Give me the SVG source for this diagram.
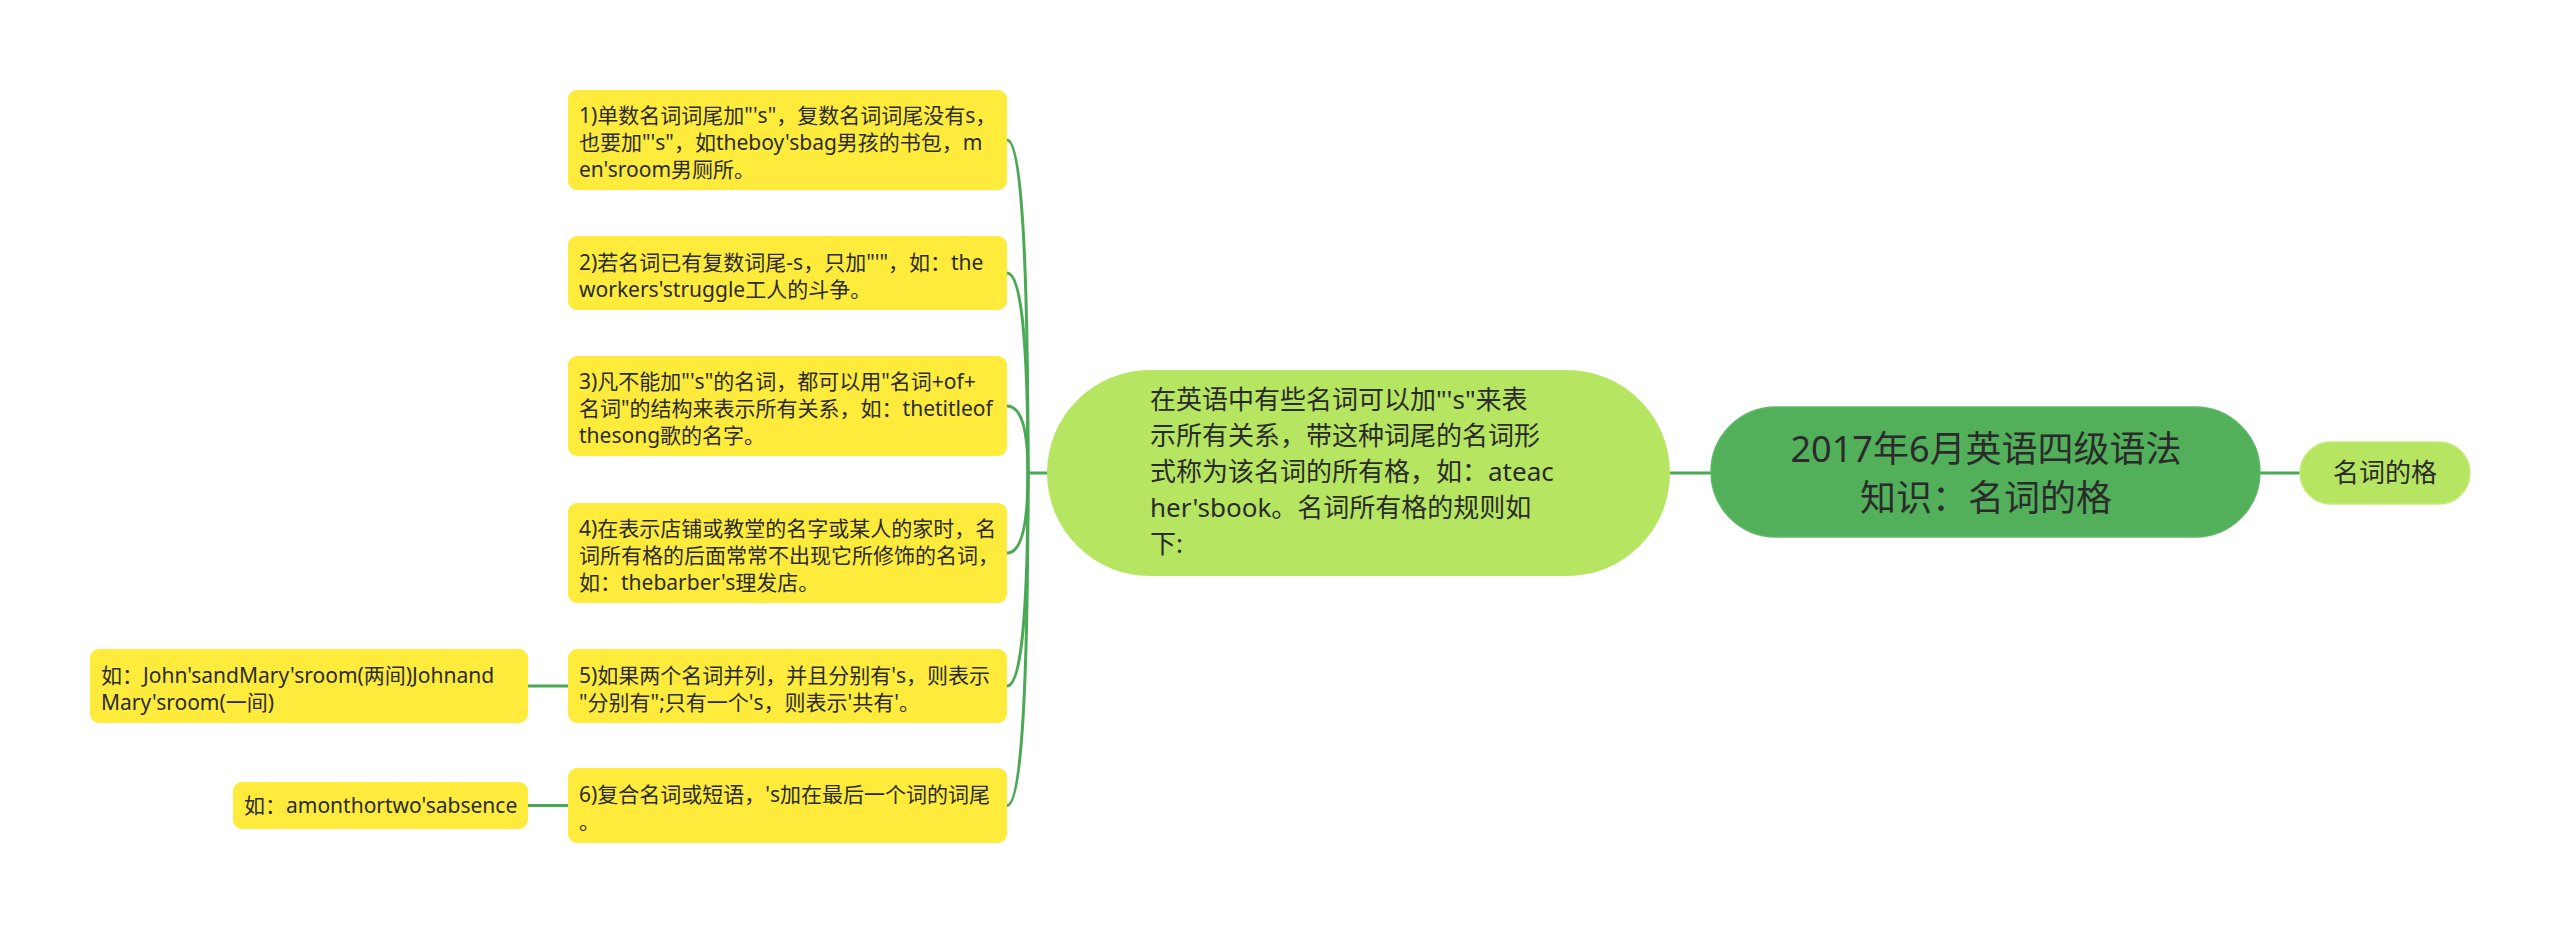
<svg xmlns="http://www.w3.org/2000/svg" width="2560" height="933" viewBox="0 0 2560 933">
<style>
.bg{fill:#ffffff}
.conn{fill:none;stroke:#4aa954;stroke-width:3}
.y{fill:#feeb3b}
.yt{font-family:"Noto Sans","Noto Sans CJK SC",sans-serif;font-size:21px;fill:#2b2b2b}
.ct{font-family:"Noto Sans","Noto Sans CJK SC",sans-serif;font-size:26px;fill:#2b2b2b}
.rt{font-family:"Noto Sans","Noto Sans CJK SC",sans-serif;font-size:36px;fill:#2b2b2b;text-anchor:middle}
</style>
<rect class="bg" x="0" y="0" width="2560" height="933"/>
<g id="connectors">
<line class="conn" x1="2260" y1="473" x2="2300" y2="473"/>
<line class="conn" x1="1670" y1="473" x2="1711" y2="473"/>
<line class="conn" x1="1028" y1="473" x2="1047" y2="473"/>
<path class="conn" d="M1028 473 Q1028 140 1007 140"/>
<path class="conn" d="M1028 473 Q1028 273 1007 273"/>
<path class="conn" d="M1028 473 Q1028 406 1007 406"/>
<path class="conn" d="M1028 473 Q1028 553 1007 553"/>
<path class="conn" d="M1028 473 Q1028 686 1007 686"/>
<path class="conn" d="M1028 473 Q1028 805.5 1007 805.5"/>
<line class="conn" x1="528" y1="686" x2="568" y2="686"/>
<line class="conn" x1="528" y1="805.5" x2="568" y2="805.5"/>
</g>
<g id="root">
<rect x="1711" y="407" width="549" height="130" rx="65" fill="#52b05a" stroke="#5cb864" stroke-width="1.5"/>
<text class="rt" x="1986" y="462">2017年6月英语四级语法</text>
<text class="rt" x="1986" y="511">知识：名词的格</text>
</g>
<g id="leaf">
<rect x="2300" y="442" width="170" height="62" rx="31" fill="#b5e561" stroke="#c4ec7c" stroke-width="1.5"/>
<text class="ct" x="2385" y="482" text-anchor="middle">名词的格</text>
</g>
<g id="center">
<rect x="1047" y="370" width="623" height="206" rx="103" fill="#b5e561"/>
<text class="ct" x="1150" y="409">在英语中有些名词可以加"'s"来表</text>
<text class="ct" x="1150" y="445">示所有关系，带这种词尾的名词形</text>
<text class="ct" x="1150" y="481">式称为该名词的所有格，如：ateac</text>
<text class="ct" x="1150" y="517">her'sbook。名词所有格的规则如</text>
<text class="ct" x="1150" y="553">下:</text>
</g>
<g id="rule1">
<rect class="y" x="568" y="90" width="439" height="100" rx="9"/>
<text class="yt" x="579" y="123">1)单数名词词尾加"'s"，复数名词词尾没有s，</text>
<text class="yt" x="579" y="150">也要加"'s"，如theboy'sbag男孩的书包，m</text>
<text class="yt" x="579" y="177">en'sroom男厕所。</text>
</g>
<g id="rule2">
<rect class="y" x="568" y="236" width="439" height="74" rx="9"/>
<text class="yt" x="579" y="269.5">2)若名词已有复数词尾-s，只加"'"，如：the</text>
<text class="yt" x="579" y="296.5">workers'struggle工人的斗争。</text>
</g>
<g id="rule3">
<rect class="y" x="568" y="356" width="439" height="100" rx="9"/>
<text class="yt" x="579" y="389">3)凡不能加"'s"的名词，都可以用"名词+of+</text>
<text class="yt" x="579" y="416">名词"的结构来表示所有关系，如：thetitleof</text>
<text class="yt" x="579" y="443">thesong歌的名字。</text>
</g>
<g id="rule4">
<rect class="y" x="568" y="503" width="439" height="100" rx="9"/>
<text class="yt" x="579" y="536">4)在表示店铺或教堂的名字或某人的家时，名</text>
<text class="yt" x="579" y="563">词所有格的后面常常不出现它所修饰的名词，</text>
<text class="yt" x="579" y="590">如：thebarber's理发店。</text>
</g>
<g id="rule5">
<rect class="y" x="568" y="649" width="439" height="74" rx="9"/>
<text class="yt" x="579" y="682.5">5)如果两个名词并列，并且分别有's，则表示</text>
<text class="yt" x="579" y="709.5">"分别有";只有一个's，则表示'共有'。</text>
</g>
<g id="rule6">
<rect class="y" x="568" y="768" width="439" height="75" rx="9"/>
<text class="yt" x="579" y="802">6)复合名词或短语，'s加在最后一个词的词尾</text>
<text class="yt" x="579" y="829">。</text>
</g>
<g id="example5">
<rect class="y" x="90" y="649" width="438" height="74" rx="9"/>
<text class="yt" x="101" y="682.5">如：John'sandMary'sroom(两间)Johnand</text>
<text class="yt" x="101" y="709.5">Mary'sroom(一间)</text>
</g>
<g id="example6">
<rect class="y" x="233" y="782" width="295" height="47" rx="9"/>
<text class="yt" x="244" y="812.5">如：amonthortwo'sabsence</text>
</g>
</svg>
